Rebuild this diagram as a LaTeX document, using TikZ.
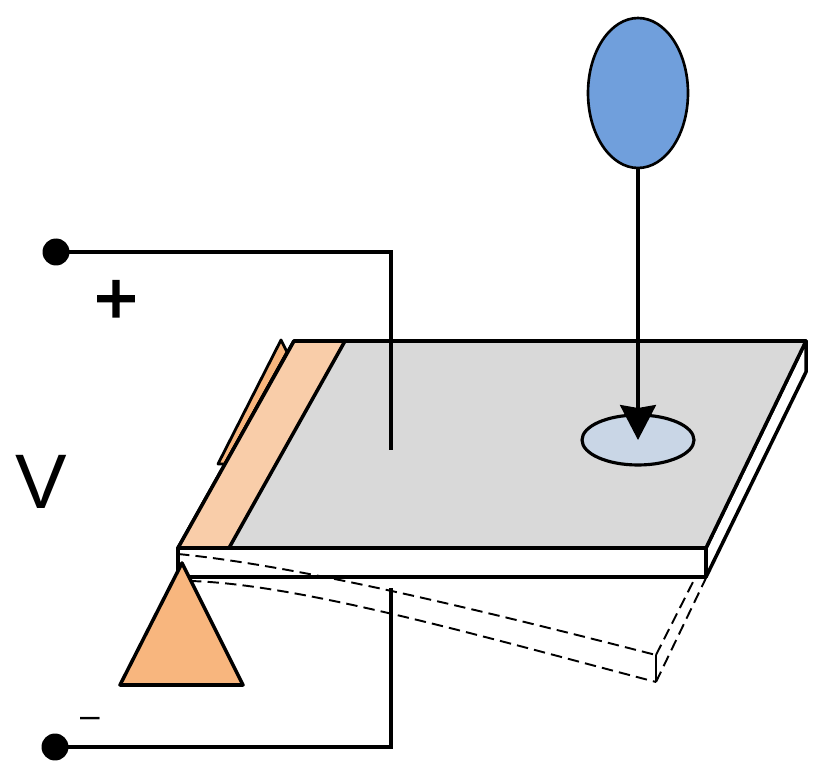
\documentclass[tikz,border=0pt]{standalone}
\usepackage{fontspec}
\setmainfont{Liberation Sans}
\newfontfamily\plusfont[FakeBold=2.5]{Liberation Sans}
\usetikzlibrary{arrows.meta,shapes.geometric}
\definecolor{plategray}{HTML}{D9D9D9}
\definecolor{stripor}{HTML}{F9CDA9}
\definecolor{pivotor}{HTML}{F8B67E}
\definecolor{ballblue}{HTML}{709FDC}
\definecolor{spotblue}{HTML}{C9D6E6}
\tikzset{
    outline/.style={draw=black, line width=2pt, line join=round},
    wire/.style={draw=black, line width=1.75pt},
    bent/.style={draw=black, line width=1.1pt, dash pattern=on 6.5pt off 3.5pt},
    terminal/.style={circle, fill=black, inner sep=0pt, minimum size=0.54cm},
    bigtext/.style={font=\fontsize{44}{44}\selectfont, inner sep=0pt}
}

\begin{document}
\begin{tikzpicture}[x=0.02cm, y=-0.02cm]
        \useasboundingbox (0,0) rectangle (832,780);

        % Rear contact
        \draw[outline, line width=1.6pt, fill=pivotor] (281,340) -- (287,352) -- (225,464) -- (218,464) -- cycle;

        % Plate
        \draw[outline, fill=white] (178,548) -- (706,548) -- (706,577) -- (178,577) -- cycle;
        \draw[outline, fill=white] (706,548) -- (806,341) -- (806,372) -- (706,577) -- cycle;
        \draw[outline, fill=plategray] (178,548) -- (294,341) -- (806,341) -- (706,548) -- cycle;
        \draw[outline, fill=stripor] (178,548) -- (294,341) -- (345,341) -- (229,548) -- cycle;

        % Bent plate
        \draw[bent] (178,554) .. controls (300,566) and (480,610) .. (656,655);
        \draw[bent] (190,581) .. controls (300,584) and (480,636) .. (656,682);
        \draw[bent] (656,655) -- (695,578);
        \draw[bent] (656,682) -- (706,578);
        \draw[line width=1.1pt] (656,655) -- (656,682);

        % Pivot
        \draw[outline, fill=pivotor] (182,563) -- (243,685) -- (120,685) -- cycle;

        % Ball and impact spot
        \node[draw=black, line width=1.5pt, fill=ballblue, ellipse, minimum width=2cm, minimum height=3cm, inner sep=0pt] (ball) at (638,93) {};
        \node[draw=black, line width=1.8pt, fill=spotblue, ellipse, minimum width=2.24cm, minimum height=1cm, inner sep=0pt] (spot) at (638,440) {};
        \draw[wire, -{Stealth[length=0.7cm, width=0.72cm, inset=0.06cm]}] (ball.south) -- (spot.center);

        % Terminals and wires
        \node[terminal] (top) at (56,252) {};
        \node[terminal] (bottom) at (55,747) {};
        \coordinate (topend) at (391,450);
        \coordinate (bottomend) at (391,588);
        \draw[wire] (top.center) -| (topend);
        \draw[wire] (bottom.center) -| (bottomend);

        % Labels
        \node[bigtext, font=\fontsize{42}{42}\plusfont] (plus) at (116,302) {+};
        \node[bigtext] (volt) at (41,482) {V};
        \node[inner sep=0pt, font=\fontsize{20}{20}\selectfont] (minus) at (90,722) {–};
\end{tikzpicture}
\end{document}
